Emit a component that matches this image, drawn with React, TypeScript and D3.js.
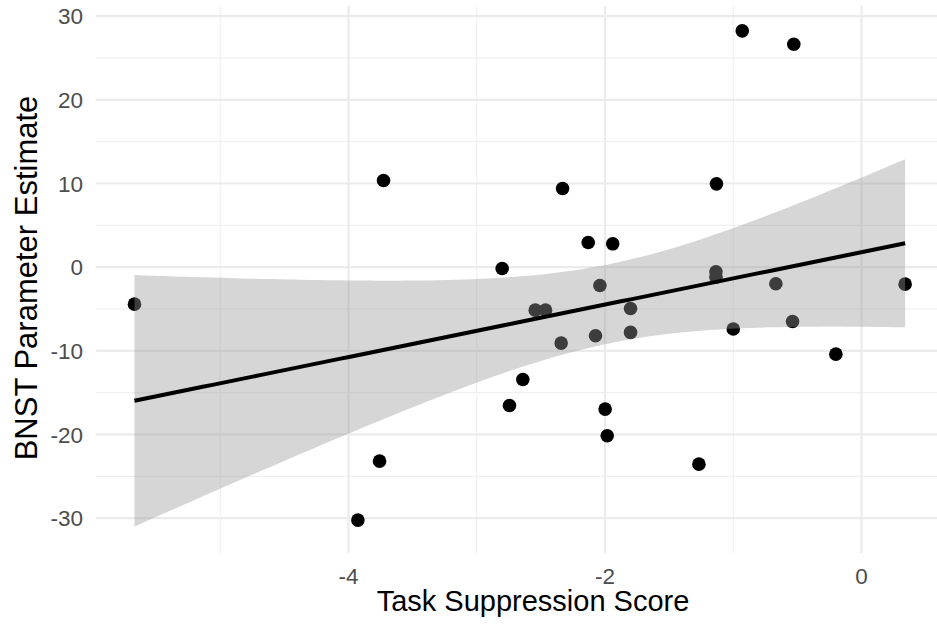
import React from 'react';
import * as d3 from 'd3';

// task suppression score (x) vs BNST parameter estimate (y)
const scoreX = [-5.669, -3.727, -2.802, -2.331, -2.131, -1.94, -2.04, -2.544, -2.464, -2.342,
  -2.074, -2.641, -2.745, -1.999, -1.983, -3.758, -3.927, -1.801, -1.801, -1.0,
  -1.135, -1.135, -1.131, -0.93, -0.528, -0.668, -0.538, -0.2, 0.34, -1.268];
const bnstY = [-4.42, 10.36, -0.16, 9.4, 2.95, 2.79, -2.19, -5.14, -5.14, -9.08,
  -8.2, -13.43, -16.53, -16.97, -20.16, -23.19, -30.24, -4.94, -7.8, -7.4,
  -0.56, -1.2, 9.96, 28.25, 26.65, -1.99, -6.49, -10.4, -2.03, -23.55];

const xMajor = [-4, -2, 0];
const xMinor = [-5, -3, -1];
const yMajor = [-30, -20, -10, 0, 10, 20, 30];
const yMinor = [-25, -15, -5, 5, 15, 25];

const W = 937;
const H = 626;

const xScale = d3.scaleLinear().domain([-5.969, 0.64]).range([96, 943.6]);
const yScale = d3.scaleLinear().domain([-34.17, 31.22]).range([553, 6]);

// lm fit + 95% band, like geom_smooth(method = "lm")
const fit = () => {
  const n = scoreX.length;
  const mx = d3.mean(scoreX);
  const my = d3.mean(bnstY);
  let sxx = 0, sxy = 0;
  for (let i = 0; i < n; i++) {
    sxx += (scoreX[i] - mx) ** 2;
    sxy += (scoreX[i] - mx) * (bnstY[i] - my);
  }
  const b = sxy / sxx;
  const a = my - b * mx;
  let sse = 0;
  for (let i = 0; i < n; i++) sse += (bnstY[i] - a - b * scoreX[i]) ** 2;
  const s = Math.sqrt(sse / (n - 2));
  const t = 2.0484; // qt(0.975, 28)
  const [lo, hi] = d3.extent(scoreX);
  return d3.range(80).map((k) => {
    const x = lo + (hi - lo) * k / 79;
    const y = a + b * x;
    const se = s * Math.sqrt(1 / n + (x - mx) ** 2 / sxx);
    return { x, y, ymin: y - t * se, ymax: y + t * se };
  });
};

export default function App() {
  const pred = fit();
  const band = d3.area()
    .x((d) => xScale(d.x))
    .y0((d) => yScale(d.ymin))
    .y1((d) => yScale(d.ymax));
  const line = d3.line()
    .x((d) => xScale(d.x))
    .y((d) => yScale(d.y));

  const [py0, py1] = yScale.range();

  return (
    <svg width={W} height={H} style={{ position: 'absolute', left: 0, top: 0, background: '#fff' }}
      fontFamily="'Liberation Sans', Arial, sans-serif">
      {/* grid */}
      {yMinor.map((v) => (
        <line key={'ym' + v} x1={96} x2={W} y1={yScale(v)} y2={yScale(v)} stroke="#f0f0f0" strokeWidth={1.2} />
      ))}
      {xMinor.map((v) => (
        <line key={'xm' + v} x1={xScale(v)} x2={xScale(v)} y1={py1} y2={py0} stroke="#f0f0f0" strokeWidth={1.2} />
      ))}
      {yMajor.map((v) => (
        <line key={'yM' + v} x1={96} x2={W} y1={yScale(v)} y2={yScale(v)} stroke="#ebebeb" strokeWidth={2.2} />
      ))}
      {xMajor.map((v) => (
        <line key={'xM' + v} x1={xScale(v)} x2={xScale(v)} y1={py1} y2={py0} stroke="#ebebeb" strokeWidth={2.2} />
      ))}

      {/* points */}
      {scoreX.map((x, i) => (
        <circle key={i} cx={xScale(x)} cy={yScale(bnstY[i])} r={6.8} fill="#000" />
      ))}

      {/* smooth */}
      <path d={band(pred)} fill="#999999" fillOpacity={0.4} />
      <path d={line(pred)} fill="none" stroke="#000" strokeWidth={4} />

      {/* tick labels */}
      {yMajor.map((v) => (
        <text key={'yl' + v} x={83} y={yScale(v)} dy="0.36em" textAnchor="end" fontSize={22.5} fill="#4d4d4d">{v}</text>
      ))}
      {xMajor.map((v) => (
        <text key={'xl' + v} x={xScale(v)} y={584} textAnchor="middle" fontSize={22.5} fill="#4d4d4d">{v}</text>
      ))}

      {/* axis titles */}
      <text x={533} y={611} textAnchor="middle" fontSize={29} fill="#000">Task Suppression Score</text>
      <text transform="translate(37,278) rotate(-90)" textAnchor="middle" fontSize={31} fill="#000">BNST Parameter Estimate</text>
    </svg>
  );
}
